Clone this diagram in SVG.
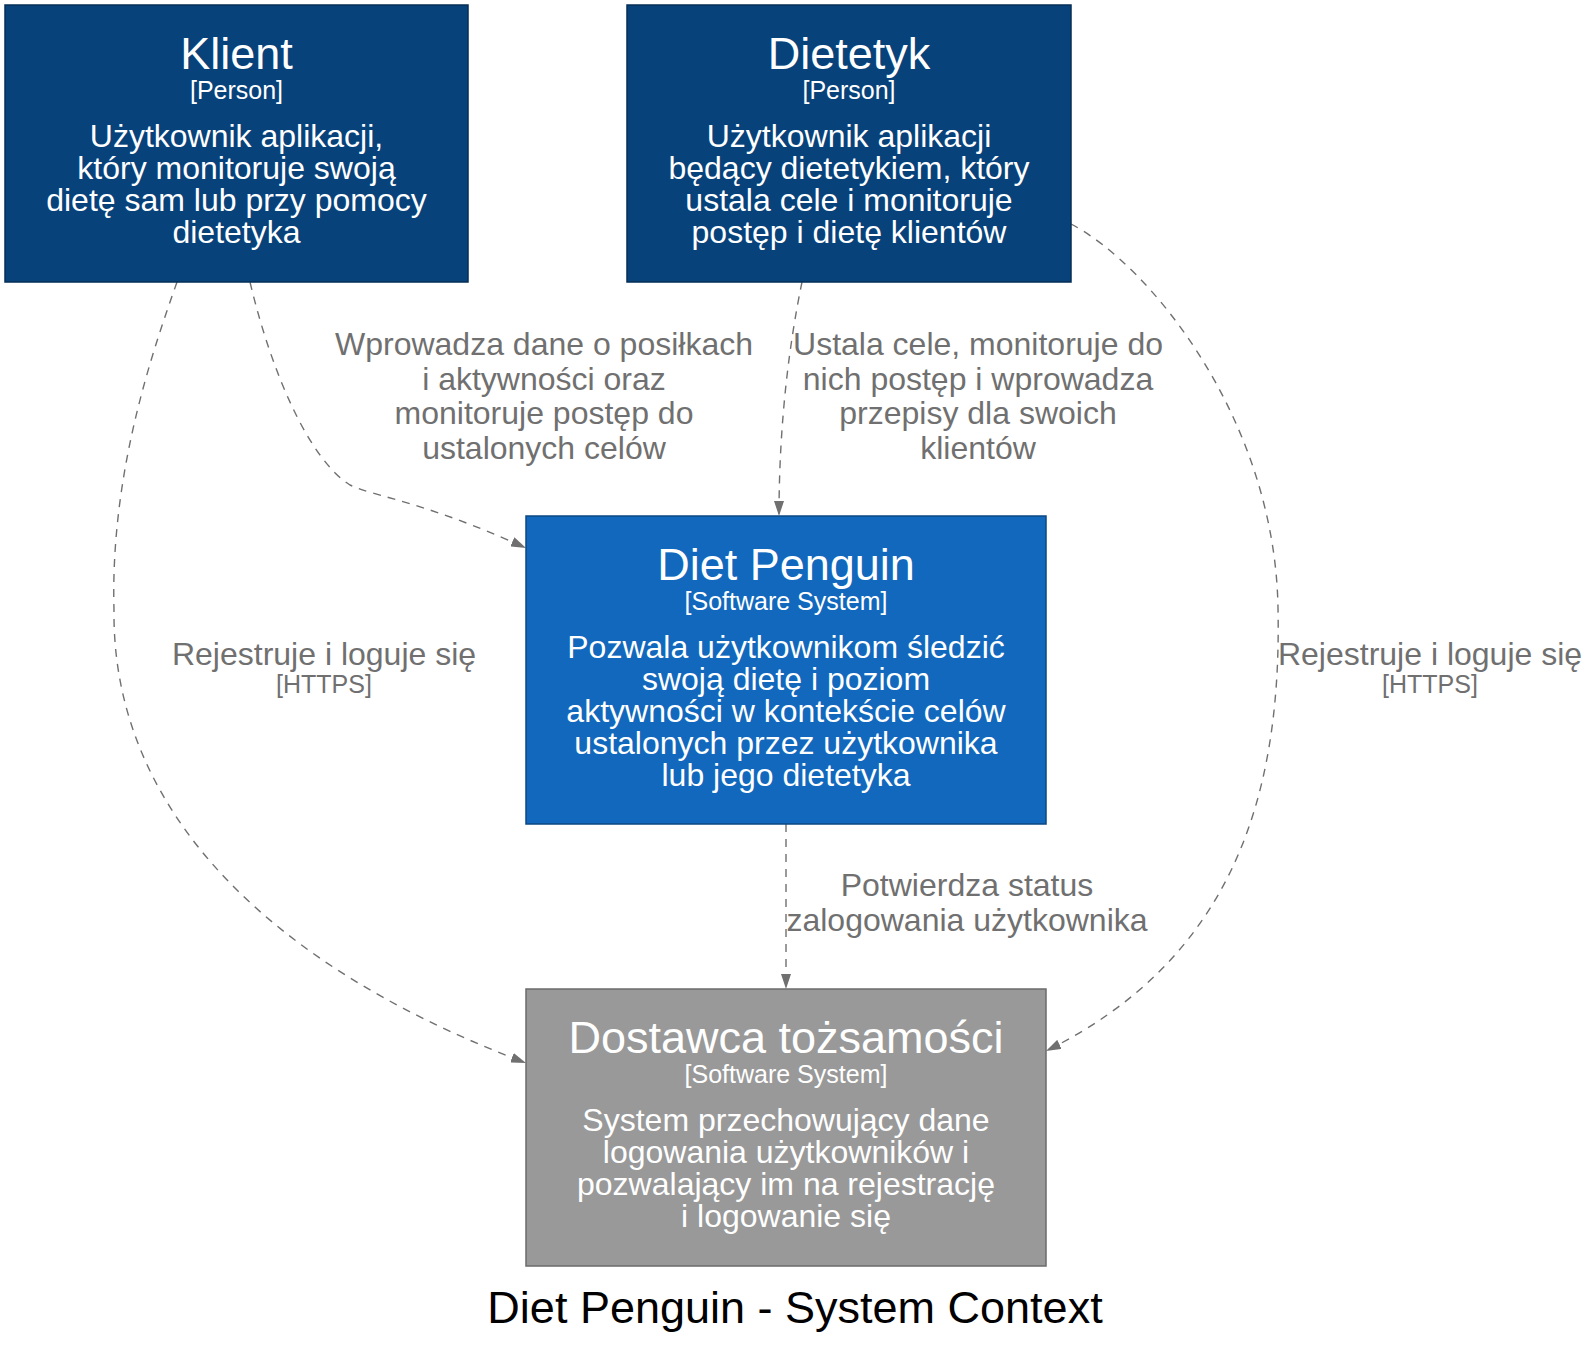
<svg xmlns="http://www.w3.org/2000/svg" width="1590" height="1345" viewBox="0 0 1590 1345">
  <style>
    text { font-family: "Liberation Sans", Arial, sans-serif; text-anchor: middle; }
    .name { font-size: 45px; fill: #ffffff; }
    .meta { font-size: 25px; fill: #ffffff; }
    .desc { font-size: 32px; fill: #ffffff; }
    .person { fill: #08427b; stroke: #052e56; stroke-width: 1.5; }
    .system { fill: #1168bd; stroke: #0b4884; stroke-width: 1.5; }
    .external { fill: #999999; stroke: #6b6b6b; stroke-width: 1.5; }
    .edge { fill: none; stroke: #707070; stroke-width: 1.4; stroke-dasharray: 8 7; marker-end: url(#arrow); }
    .lbl { font-size: 32px; fill: #707070; }
    .tech { font-size: 25px; fill: #707070; }
    .title { font-size: 45px; fill: #000000; }
  </style>
  <defs>
    <marker id="arrow" markerUnits="userSpaceOnUse" markerWidth="15" markerHeight="10" viewBox="0 0 15 10" refX="15" refY="5" orient="auto">
      <path d="M0,0 L15,5 L0,10 z" fill="#707070"/>
    </marker>
  </defs>
  <rect x="0" y="0" width="1590" height="1345" fill="#ffffff"/>

  <g id="connectors">
    <path class="edge" d="M250,282 C272,375 310,460 350,485 C375,497 420,500 526,548"/>
    <path class="edge" d="M802,282 C790,340 779,420 779,516"/>
    <path class="edge" d="M177,282 C155,345 110,470 114,610 C112,790 240,955 526,1063"/>
    <path class="edge" d="M1071,224 C1150,265 1275,420 1278,608 C1282,800 1230,960 1046,1051"/>
    <path class="edge" d="M786,824 L786,989"/>
    <g id="edge-labels">
      <text class="lbl" x="544" y="355">Wprowadza dane o posiłkach</text>
      <text class="lbl" x="544" y="389.5">i aktywności oraz</text>
      <text class="lbl" x="544" y="424">monitoruje postęp do</text>
      <text class="lbl" x="544" y="458.5">ustalonych celów</text>
      <text class="lbl" x="978" y="355">Ustala cele, monitoruje do</text>
      <text class="lbl" x="978" y="389.5">nich postęp i wprowadza</text>
      <text class="lbl" x="978" y="424">przepisy dla swoich</text>
      <text class="lbl" x="978" y="458.5">klientów</text>
      <text class="lbl" x="324" y="665">Rejestruje i loguje się</text>
      <text class="tech" x="324" y="693">[HTTPS]</text>
      <text class="lbl" x="1430" y="665">Rejestruje i loguje się</text>
      <text class="tech" x="1430" y="693">[HTTPS]</text>
      <text class="lbl" x="967" y="896">Potwierdza status</text>
      <text class="lbl" x="967" y="931">zalogowania użytkownika</text>
    </g>
  </g>

  <g id="klient">
    <rect class="person" x="5" y="5" width="463" height="277"/>
    <text class="name" x="236.5" y="69">Klient</text>
    <text class="meta" x="236.5" y="99">[Person]</text>
    <text class="desc" x="236.5" y="147">Użytkownik aplikacji,</text>
    <text class="desc" x="236.5" y="179">który monitoruje swoją</text>
    <text class="desc" x="236.5" y="211">dietę sam lub przy pomocy</text>
    <text class="desc" x="236.5" y="243">dietetyka</text>
  </g>

  <g id="dietetyk">
    <rect class="person" x="627" y="5" width="444" height="277"/>
    <text class="name" x="849" y="69">Dietetyk</text>
    <text class="meta" x="849" y="99">[Person]</text>
    <text class="desc" x="849" y="147">Użytkownik aplikacji</text>
    <text class="desc" x="849" y="179">będący dietetykiem, który</text>
    <text class="desc" x="849" y="211">ustala cele i monitoruje</text>
    <text class="desc" x="849" y="243">postęp i dietę klientów</text>
  </g>

  <g id="diet-penguin">
    <rect class="system" x="526" y="516" width="520" height="308"/>
    <text class="name" x="786" y="580">Diet Penguin</text>
    <text class="meta" x="786" y="610">[Software System]</text>
    <text class="desc" x="786" y="658">Pozwala użytkownikom śledzić</text>
    <text class="desc" x="786" y="690">swoją dietę i poziom</text>
    <text class="desc" x="786" y="722">aktywności w kontekście celów</text>
    <text class="desc" x="786" y="754">ustalonych przez użytkownika</text>
    <text class="desc" x="786" y="786">lub jego dietetyka</text>
  </g>

  <g id="dostawca-tozsamosci">
    <rect class="external" x="526" y="989" width="520" height="277"/>
    <text class="name" x="786" y="1053">Dostawca tożsamości</text>
    <text class="meta" x="786" y="1083">[Software System]</text>
    <text class="desc" x="786" y="1131">System przechowujący dane</text>
    <text class="desc" x="786" y="1163">logowania użytkowników i</text>
    <text class="desc" x="786" y="1195">pozwalający im na rejestrację</text>
    <text class="desc" x="786" y="1227">i logowanie się</text>
  </g>

  <g id="title">
    <text class="title" x="795" y="1323">Diet Penguin - System Context</text>
  </g>
</svg>
